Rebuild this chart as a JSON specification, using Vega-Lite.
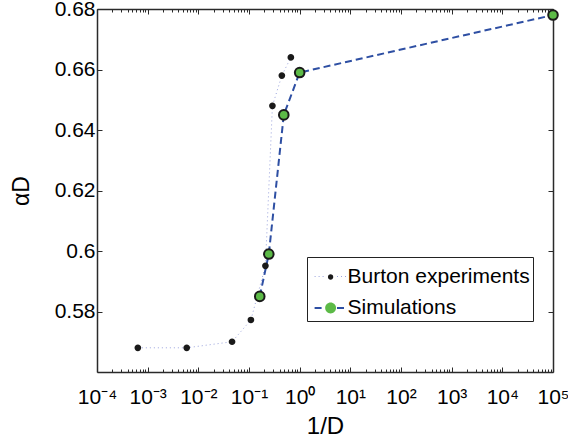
{
  "$schema": "https://vega.github.io/schema/vega-lite/v6.json",
  "width": 456,
  "height": 363,
  "autosize": {"type": "none"},
  "padding": {"left": 97, "top": 9, "right": 15, "bottom": 70},
  "config": {
    "font": "Liberation Sans",
    "view": {"stroke": null},
    "axis": {
      "labelFont": "Liberation Sans",
      "labelFontSize": 21,
      "labelColor": "#000",
      "domainColor": "#2a2a2a",
      "domainWidth": 1.5,
      "tickColor": "#2a2a2a",
      "tickWidth": 1,
      "grid": false,
      "titleFont": "Liberation Sans",
      "titleFontWeight": "normal",
      "titleColor": "#000",
      "labelOverlap": false,
      "labelFlush": false,
      "labelBound": false
    }
  },
  "data": {
    "values": [
      {"x": 0.00064, "y": 0.568, "series": "Burton experiments"},
      {"x": 0.0059, "y": 0.568, "series": "Burton experiments"},
      {"x": 0.0463, "y": 0.570, "series": "Burton experiments"},
      {"x": 0.109, "y": 0.5772, "series": "Burton experiments"},
      {"x": 0.211, "y": 0.5951, "series": "Burton experiments"},
      {"x": 0.29, "y": 0.648, "series": "Burton experiments"},
      {"x": 0.445, "y": 0.658, "series": "Burton experiments"},
      {"x": 0.67, "y": 0.664, "series": "Burton experiments"},
      {"x": 0.163, "y": 0.585, "series": "Simulations"},
      {"x": 0.246, "y": 0.599, "series": "Simulations"},
      {"x": 0.486, "y": 0.645, "series": "Simulations"},
      {"x": 1.0, "y": 0.659, "series": "Simulations"},
      {"x": 100000, "y": 0.678, "series": "Simulations"}
    ]
  },
  "layer": [
    {
      "mark": {"type": "line"},
      "encoding": {
        "x": {
          "field": "x", "type": "quantitative",
          "scale": {"type": "log", "domain": [0.0001, 100000]},
          "axis": {
            "orient": "bottom",
            "title": "1/D",
            "titleFontSize": 24,
            "titlePadding": 5,
            "values": [0.0001,2e-4,3e-4,4e-4,5e-4,6e-4,7e-4,8e-4,9e-4,0.001,2e-3,3e-3,4e-3,5e-3,6e-3,7e-3,8e-3,9e-3,0.01,0.02,0.03,0.04,0.05,0.06,0.07,0.08,0.09,0.1,0.2,0.3,0.4,0.5,0.6,0.7,0.8,0.9,1,2,3,4,5,6,7,8,9,10,20,30,40,50,60,70,80,90,100,200,300,400,500,600,700,800,900,1000,2000,3000,4000,5000,6000,7000,8000,9000,10000,20000,30000,40000,50000,60000,70000,80000,90000,100000],
            "labelExpr": "abs(log(datum.value)/LN10 - round(log(datum.value)/LN10)) < 0.001 ? ['10⁻⁴','10⁻³','10⁻²','10⁻¹','10⁰','10¹','10²','10³','10⁴','10⁵'][round(log(datum.value)/LN10)+4] : ''",
            "tickSize": {"condition": {"test": "abs(log(datum.value)/LN10 - round(log(datum.value)/LN10)) < 0.001", "value": -5}, "value": -3},
            "labelPadding": 19
          }
        },
        "y": {
          "field": "y", "type": "quantitative",
          "scale": {"domain": [0.56, 0.68], "nice": false, "zero": false},
          "axis": {
            "orient": "left",
            "title": "αD",
            "titleFontSize": 23,
            "titlePadding": 21,
            "values": [0.58, 0.6, 0.62, 0.64, 0.66, 0.68],
            "format": ".2~f",
            "tickSize": -5,
            "labelPadding": 7
          }
        },
        "stroke": {
          "field": "series", "type": "nominal",
          "scale": {"domain": ["Burton experiments", "Simulations"], "range": ["#9aa3dd", "#2e4fa3"]},
          "legend": {
            "orient": "none", "legendX": 210, "legendY": 248, "title": null,
            "labelFontSize": 21, "labelOpacity": 0, "labelLimit": 400, "labelOffset": 0,
            "symbolType": "M-1,0H-0.4M0.4,0H1", "symbolStrokeWidth": 2,
            "symbolSize": 1024, "symbolOffset": 3.6, "padding": 3, "rowPadding": 4
          }
        },
        "strokeDash": {
          "field": "series", "type": "nominal",
          "scale": {"domain": ["Burton experiments", "Simulations"], "range": [[1, 3], [7, 4]]}
        },
        "strokeWidth": {
          "field": "series", "type": "nominal",
          "scale": {"domain": ["Burton experiments", "Simulations"], "range": [1, 2]}
        }
      }
    },
    {
      "mark": {"type": "point", "filled": true, "stroke": "#1a1a1a", "strokeWidth": 2, "opacity": 1, "size": 797},
      "encoding": {
        "x": {
          "field": "x", "type": "quantitative",
          "scale": {"type": "log", "domain": [0.0001, 100000]},
          "axis": {
            "orient": "top", "title": null, "labels": false, "domain": true,
            "values": [0.0001,2e-4,3e-4,4e-4,5e-4,6e-4,7e-4,8e-4,9e-4,0.001,2e-3,3e-3,4e-3,5e-3,6e-3,7e-3,8e-3,9e-3,0.01,0.02,0.03,0.04,0.05,0.06,0.07,0.08,0.09,0.1,0.2,0.3,0.4,0.5,0.6,0.7,0.8,0.9,1,2,3,4,5,6,7,8,9,10,20,30,40,50,60,70,80,90,100,200,300,400,500,600,700,800,900,1000,2000,3000,4000,5000,6000,7000,8000,9000,10000,20000,30000,40000,50000,60000,70000,80000,90000,100000],
            "tickSize": {"condition": {"test": "abs(log(datum.value)/LN10 - round(log(datum.value)/LN10)) < 0.001", "value": -5}, "value": -3}
          }
        },
        "y": {
          "field": "y", "type": "quantitative",
          "scale": {"domain": [0.56, 0.68], "nice": false, "zero": false},
          "axis": {
            "orient": "right", "title": null, "labels": false,
            "values": [0.58, 0.6, 0.62, 0.64, 0.66, 0.68],
            "tickSize": -5
          }
        },
        "fill": {
          "field": "series", "type": "nominal",
          "scale": {"range": ["#1a1a1a", "#5cba47"]},
          "legend": {
            "orient": "none", "legendX": 210, "legendY": 248, "title": null,
            "labelFontSize": 21, "labelColor": "#000", "labelLimit": 400, "labelOffset": 0,
            "strokeColor": "#222", "padding": 3, "rowPadding": 4,
            "symbolSize": 1024, "symbolOffset": 3.6,
            "symbolStrokeColor": "#1a1a1a", "symbolStrokeWidth": 2,
            "encode": {"symbols": {"stroke": {"value": "#1a1a1a"}, "strokeWidth": {"value": 2}}}
          }
        },
        "shape": {
          "field": "series", "type": "nominal",
          "scale": {"range": ["M-0.166,0A0.166,0.166 0 1,0 0.166,0A0.166,0.166 0 1,0 -0.166,0Z", "M-0.34,0A0.34,0.34 0 1,0 0.34,0A0.34,0.34 0 1,0 -0.34,0Z"]},
          "legend": {
            "orient": "none", "legendX": 210, "legendY": 248, "title": null,
            "labelFontSize": 21, "labelColor": "#000", "labelLimit": 400, "labelOffset": 0,
            "strokeColor": "#222", "padding": 3, "rowPadding": 4,
            "symbolSize": 1024, "symbolOffset": 3.6,
            "symbolStrokeColor": "#1a1a1a", "symbolStrokeWidth": 2,
            "encode": {"symbols": {"stroke": {"value": "#1a1a1a"}, "strokeWidth": {"value": 2}}}
          }
        }
      }
    }
  ],
  "resolve": {"axis": {"x": "independent", "y": "independent"}}
}
